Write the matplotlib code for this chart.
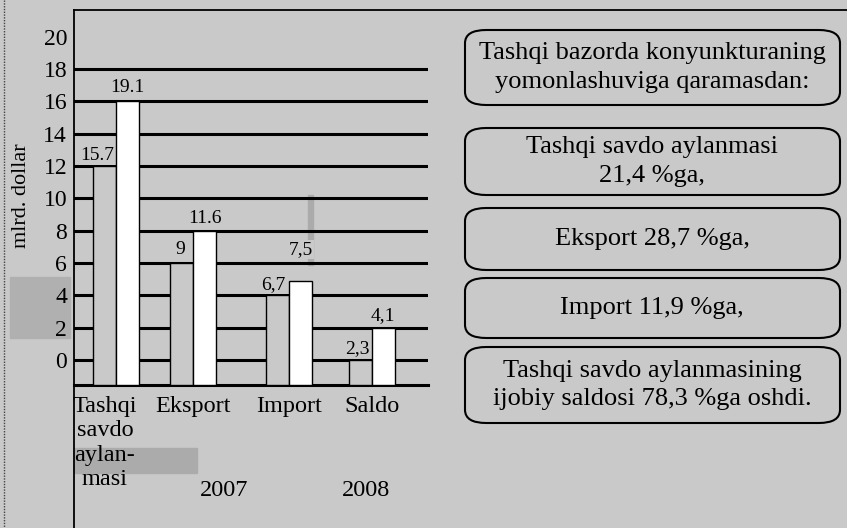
import matplotlib
matplotlib.use("Agg")
import matplotlib.pyplot as plt
import numpy as np
from matplotlib.lines import Line2D
from matplotlib.patches import FancyBboxPatch, Rectangle
from matplotlib.transforms import ScaledTranslation

plt.rcParams['font.family'] = ['Liberation Serif', 'DejaVu Serif']

# categories and values (labels printed on the bars)
categories = ["Tashqi\nsavdo\naylan-\nmasi", "Eksport", "Import", "Saldo"]
values_2007 = ["15.7", "9", "6,7", "2,3"]
values_2008 = ["19.1", "11.6", "7,5", "4,1"]
# bar heights as they are drawn against the printed scale
height_2007 = [12, 6, 4, 0]
height_2008 = [16, 8, 4.9, 2]
years = ["2007", "2008"]
yticks = [0, 2, 4, 6, 8, 10, 12, 14, 16, 18, 20]
notes = [
    "Tashqi bazorda konyunkturaning\nyomonlashuviga qaramasdan:",
    "Tashqi savdo aylanmasi\n21,4 %ga,",
    "Eksport 28,7 %ga,",
    "Import 11,9 %ga,",
    "Tashqi savdo aylanmasining\nijobiy saldosi 78,3 %ga oshdi.",
]

W, H = 847, 528
BG = "#c9c9c9"
fig = plt.figure(figsize=(W / 100, H / 100), dpi=100, facecolor=BG)


def fx(x):
    return x / W


def fy(y):
    return 1 - y / H


# main axes: 74..428 px wide, 10..385 px tall
ax = fig.add_axes([fx(74), fy(385), fx(428) - fx(74), fy(10) - fy(385)])
ax.set_facecolor(BG)
ymin, ymax = -1.55, 21.65
ax.set_ylim(ymin, ymax)

group_pos = np.array([0, 0.902, 2.027, 3.0])
ax.set_xlim(-0.492, 3.656)
w = 0.27

# scan shading strip inside the plot
ax.add_patch(Rectangle((fx(308), fy(265)), fx(5), fy(0) - fy(70), transform=fig.transFigure,
                       color="#ababab", zorder=0.5))

for y in yticks[:-1]:
    ax.axhline(y, color="black", lw=2.2, zorder=1)

b1 = ax.bar(group_pos - w / 2, np.array(height_2007) - ymin, bottom=ymin, width=w,
            color=BG, edgecolor="black", lw=1.0, zorder=3)
b2 = ax.bar(group_pos + w / 2, np.array(height_2008) - ymin, bottom=ymin, width=w,
            color="white", edgecolor="black", lw=1.0, zorder=3)

# label nudges in pixels (dx, dy above the bar top)
nudge_07 = [(-7, 10), (-1, 13), (-4, 11), (-3, 11)]
nudge_08 = [(0, 14), (0, 12), (0, 31), (-1, 12)]
for bars, labels, nudges in ((b1, values_2007, nudge_07), (b2, values_2008, nudge_08)):
    for rect, lab, (dx, dy) in zip(bars, labels, nudges):
        ax.annotate(lab, (rect.get_x() + rect.get_width() / 2, rect.get_y() + rect.get_height()),
                    xytext=(dx * 0.72, dy * 0.72), textcoords="offset points",
                    ha="center", va="center", fontsize=14, zorder=5,
                    bbox=dict(boxstyle="square,pad=0.05", fc=BG, ec="none"))

ax.set_yticks(yticks)
ax.set_yticklabels([str(t) for t in yticks], fontsize=17)
ax.tick_params(axis="y", length=0, pad=5)
ax.set_xticks(group_pos)
ax.set_xticklabels(categories, fontsize=17.5, va="top")
ax.tick_params(axis="x", length=0, pad=8)
first = ax.get_xticklabels()[0]
first.set_transform(first.get_transform() + ScaledTranslation(-0.11, 0, fig.dpi_scale_trans))

for s in ("top", "right", "left"):
    ax.spines[s].set_visible(False)
ax.spines["bottom"].set_linewidth(2.2)

# frame lines
fig.add_artist(Line2D([fx(74), fx(74)], [fy(10), 0], color="black", lw=1.3))
fig.add_artist(Line2D([fx(74), 1], [fy(10), fy(10)], color="black", lw=1.3))
fig.add_artist(Line2D([fx(4), fx(4)], [1, 0], color="#444444", lw=1.0, ls=(0, (1, 1))))

# scan shading outside the plot
fig.add_artist(Rectangle((fx(10), fy(338)), fx(60), fy(0) - fy(61), color="#b0b0b0", zorder=0))
fig.add_artist(Rectangle((fx(74), fy(473)), fx(123), fy(0) - fy(25), color="#ababab", zorder=0))

fig.text(fx(22), fy(196), "mlrd. dollar", rotation=90, ha="center", va="center", fontsize=16)
fig.text(fx(224), fy(490), years[0], ha="center", va="center", fontsize=17.5)
fig.text(fx(366), fy(490), years[1], ha="center", va="center", fontsize=17.5)

# right-hand note boxes
boxes = [(30, 105), (128, 195), (208, 270), (278, 338), (347, 423)]
for (top, bot), txt in zip(boxes, notes):
    p = FancyBboxPatch((fx(465), fy(bot)), fx(840) - fx(465), fy(top) - fy(bot),
                       boxstyle="round,pad=0,rounding_size=0.025", transform=fig.transFigure,
                       fc="none", ec="black", lw=1.5)
    fig.add_artist(p)
    fig.text(fx(652), fy((top + bot) / 2), txt, ha="center", va="center",
             fontsize=19, linespacing=1.4)

fig.savefig("out.png", dpi=100, facecolor=BG)
